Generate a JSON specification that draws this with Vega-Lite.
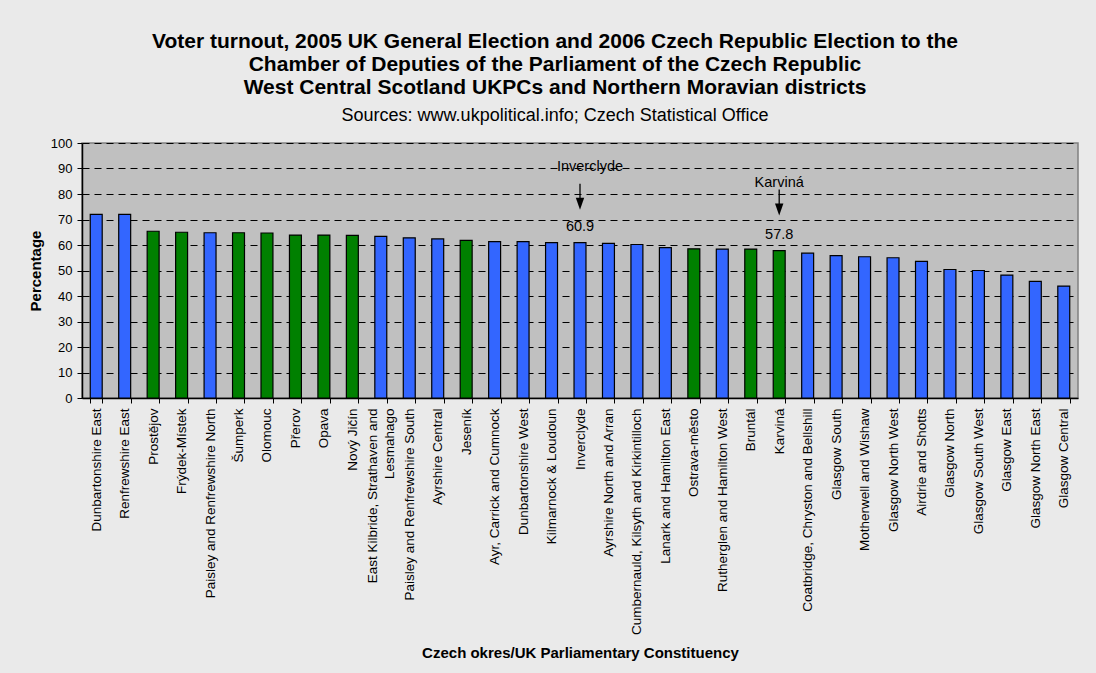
{
  "$schema": "https://vega.github.io/schema/vega-lite/v6.json",
  "width": 996,
  "height": 255,
  "autosize": {"type": "none"},
  "padding": {"left": 82, "top": 143, "right": 18, "bottom": 275},
  "background": "#EAEAEA",
  "config": {
    "font": "Liberation Sans",
    "view": {"fill": "#C0C0C0", "stroke": "#808080", "strokeWidth": 1.5}
  },
  "title": {
    "text": ["Voter turnout, 2005 UK General Election and 2006 Czech Republic Election to the", "Chamber of Deputies of the Parliament of the Czech Republic", "West Central Scotland UKPCs and Northern Moravian districts"],
    "subtitle": "Sources: www.ukpolitical.info; Czech Statistical Office",
    "font": "Liberation Sans",
    "fontSize": 21,
    "fontWeight": "bold",
    "lineHeight": 23,
    "color": "black",
    "subtitleFont": "Liberation Sans",
    "subtitleFontSize": 18,
    "subtitleColor": "black",
    "subtitlePadding": 9,
    "anchor": "middle",
    "dx": -25,
    "offset": 12
  },
  "data": {
    "values": [
      {"name": "Dunbartonshire East", "country": "UK", "turnout": 72.0},
      {"name": "Renfrewshire East", "country": "UK", "turnout": 72.0},
      {"name": "Prostějov", "country": "CZ", "turnout": 65.4},
      {"name": "Frýdek-Místek", "country": "CZ", "turnout": 65.0},
      {"name": "Paisley and Renfrewshire North", "country": "UK", "turnout": 64.8},
      {"name": "Šumperk", "country": "CZ", "turnout": 64.8},
      {"name": "Olomouc", "country": "CZ", "turnout": 64.7},
      {"name": "Přerov", "country": "CZ", "turnout": 63.9},
      {"name": "Opava", "country": "CZ", "turnout": 63.9},
      {"name": "Nový Jičín", "country": "CZ", "turnout": 63.8},
      {"name": "East Kilbride, Strathaven and Lesmahago", "country": "UK", "turnout": 63.4},
      {"name": "Paisley and Renfrewshire South", "country": "UK", "turnout": 62.8},
      {"name": "Ayrshire Central", "country": "UK", "turnout": 62.4},
      {"name": "Jeseník", "country": "CZ", "turnout": 61.8},
      {"name": "Ayr, Carrick and Cumnock", "country": "UK", "turnout": 61.3},
      {"name": "Dunbartonshire West", "country": "UK", "turnout": 61.3},
      {"name": "Kilmarnock & Loudoun", "country": "UK", "turnout": 60.9},
      {"name": "Inverclyde", "country": "UK", "turnout": 60.9},
      {"name": "Ayrshire North and Arran", "country": "UK", "turnout": 60.6},
      {"name": "Cumbernauld, Kilsyth and Kirkintilloch", "country": "UK", "turnout": 60.2},
      {"name": "Lanark and Hamilton East", "country": "UK", "turnout": 59.0},
      {"name": "Ostrava-město", "country": "CZ", "turnout": 58.5},
      {"name": "Rutherglen and Hamilton West", "country": "UK", "turnout": 58.4},
      {"name": "Bruntál", "country": "CZ", "turnout": 58.4},
      {"name": "Karviná", "country": "CZ", "turnout": 57.8},
      {"name": "Coatbridge, Chryston and Bellshill", "country": "UK", "turnout": 56.8},
      {"name": "Glasgow South", "country": "UK", "turnout": 55.8},
      {"name": "Motherwell and Wishaw", "country": "UK", "turnout": 55.4},
      {"name": "Glasgow North West", "country": "UK", "turnout": 55.0},
      {"name": "Airdrie and Shotts", "country": "UK", "turnout": 53.6},
      {"name": "Glasgow North", "country": "UK", "turnout": 50.4},
      {"name": "Glasgow South West", "country": "UK", "turnout": 50.0},
      {"name": "Glasgow East", "country": "UK", "turnout": 48.2},
      {"name": "Glasgow North East", "country": "UK", "turnout": 45.7},
      {"name": "Glasgow Central", "country": "UK", "turnout": 43.9}
    ]
  },
  "encoding": {
    "x": {
      "field": "name",
      "type": "nominal",
      "sort": null,
      "scale": {"paddingInner": 0.58, "paddingOuter": 0.29},
      "axis": {
        "title": "Czech okres/UK Parliamentary Constituency",
        "titleFont": "Liberation Sans",
        "titleFontSize": 15,
        "titleFontWeight": "bold",
        "titleColor": "black",
        "titlePadding": 47,
        "labelAngle": 270,
        "labelAlign": "right",
        "labelBaseline": "middle",
        "labelFont": "Liberation Sans",
        "labelFontSize": 13.5,
        "labelColor": "black",
        "labelLimit": 400,
        "labelPadding": 5,
        "labelLineHeight": 17,
        "labelOffset": {"condition": {"test": "datum.value == 'East Kilbride, Strathaven and Lesmahago'", "value": -8.5}, "value": 0},
        "labelExpr": "datum.label == 'East Kilbride, Strathaven and Lesmahago' ? ['East Kilbride, Strathaven and', 'Lesmahago'] : datum.label",
        "tickBand": "extent",
        "tickSize": 5,
        "tickColor": "black",
        "domainColor": "black",
        "domainWidth": 1.5,
        "grid": false
      }
    },
    "y": {
      "field": "turnout",
      "type": "quantitative",
      "scale": {"domain": [0, 100], "nice": false},
      "axis": {
        "title": "Percentage",
        "titleFont": "Liberation Sans",
        "titleFontSize": 15,
        "titleFontWeight": "bold",
        "titleColor": "black",
        "titlePadding": 7,
        "values": [0, 10, 20, 30, 40, 50, 60, 70, 80, 90, 100],
        "labelFont": "Liberation Sans",
        "labelFontSize": 13,
        "labelColor": "black",
        "labelPadding": 5,
        "tickSize": 5,
        "tickColor": "black",
        "domainColor": "black",
        "domainWidth": 1.5,
        "grid": true,
        "gridColor": "black",
        "gridDash": [7, 5],
        "gridWidth": 1
      }
    }
  },
  "layer": [
    {
      "mark": {"type": "bar", "stroke": "black", "strokeWidth": 1.2},
      "encoding": {
        "color": {
          "field": "country",
          "type": "nominal",
          "scale": {"domain": ["UK", "CZ"], "range": ["#3366FF", "#008000"]},
          "legend": null
        }
      }
    },
    {
      "transform": [{"filter": "datum.name == 'Inverclyde'"}],
      "layer": [
        {"mark": {"type": "text", "dy": -76, "dx": 10, "fontSize": 14.5, "color": "black", "font": "Liberation Sans"}, "encoding": {"text": {"field": "name"}}},
        {"mark": {"type": "text", "dy": -16, "fontSize": 14.5, "color": "black", "font": "Liberation Sans"}, "encoding": {"text": {"field": "turnout", "format": ".1f"}}},
        {"mark": {"type": "rule", "color": "black", "strokeWidth": 1.3, "yOffset": -59, "y2Offset": -40}, "encoding": {"y2": {"field": "turnout"}}},
        {"mark": {"type": "point", "shape": "M-0.7,-1L0.7,-1L0,1Z", "size": 144, "filled": true, "color": "black", "opacity": 1, "yOffset": -39}}
      ]
    },
    {
      "transform": [{"filter": "datum.name == 'Karviná'"}],
      "layer": [
        {"mark": {"type": "text", "dy": -68, "fontSize": 14.5, "color": "black", "font": "Liberation Sans"}, "encoding": {"text": {"field": "name"}}},
        {"mark": {"type": "text", "dy": -16, "fontSize": 14.5, "color": "black", "font": "Liberation Sans"}, "encoding": {"text": {"field": "turnout", "format": ".1f"}}},
        {"mark": {"type": "rule", "color": "black", "strokeWidth": 1.3, "yOffset": -61, "y2Offset": -42}, "encoding": {"y2": {"field": "turnout"}}},
        {"mark": {"type": "point", "shape": "M-0.7,-1L0.7,-1L0,1Z", "size": 144, "filled": true, "color": "black", "opacity": 1, "yOffset": -41}}
      ]
    }
  ]
}
